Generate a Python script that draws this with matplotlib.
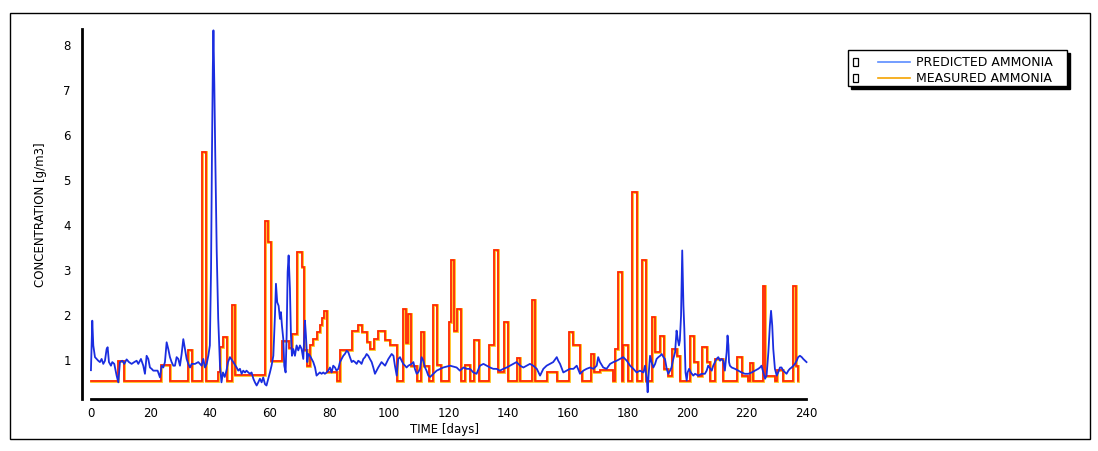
import matplotlib
matplotlib.use("Agg")
import matplotlib.pyplot as plt
from matplotlib.lines import Line2D
from matplotlib.patches import Rectangle

plt.rcParams['font.family'] = ['DejaVu Sans']

# ---------------- data ----------------
# Predicted ammonia (continuous model output)
pred_days = [0.0, 0.45, 0.79, 1.35, 1.9, 2.46, 3.02, 3.58, 4.14, 4.7, 5.26, 5.6, 6.04, 6.71, 7.16, 7.83,
             8.62, 9.18, 9.73, 10.52, 11.19, 11.97, 12.75, 13.65, 14.54, 15.33, 15.89, 16.78, 17.56,
             18.12, 18.68, 19.24, 19.8, 20.36, 20.92, 21.48, 22.37, 23.16, 23.72, 24.28, 24.83, 25.4,
             25.95, 26.51, 27.07, 27.63, 28.19, 28.75, 29.31, 29.87, 30.43, 30.99, 31.55, 32.11, 32.67,
             33.23, 33.78, 34.9, 36.02, 37.14, 37.7, 38.26, 38.82, 39.38, 39.9, 40.3, 40.6, 40.9, 41.1,
             41.4, 41.7, 42.2, 42.7, 43.3, 43.8, 44.3, 44.9, 45.5, 46.0, 46.64, 47.76, 48.88, 49.44,
             50.0, 50.56, 51.1, 51.7, 52.2, 52.8, 53.35, 53.9, 54.5, 55.03, 55.6, 56.15, 56.7, 57.27,
             57.8, 58.4, 58.9, 59.5, 60.06, 60.6, 61.2, 61.74, 62.08, 62.5, 62.97, 63.42, 63.75, 64.09,
             64.54, 64.87, 65.32, 65.66, 66.0, 66.33, 66.77, 67.11, 67.45, 67.9, 68.45, 69.01, 69.57,
             70.13, 70.69, 71.25, 71.81, 72.14, 72.59, 72.93, 73.5, 74.05, 74.6, 75.2, 75.7, 76.3, 76.8,
             77.4, 77.96, 78.5, 79.08, 79.6, 80.2, 80.75, 81.3, 81.9, 82.4, 83.0, 83.55, 84.1, 84.67,
             85.2, 85.8, 86.35, 86.9, 87.5, 88.0, 88.6, 89.15, 89.7, 90.3, 90.8, 91.4, 91.95, 92.5,
             93.06, 93.6, 94.2, 94.74, 95.3, 96.4, 97.5, 98.7, 99.8, 100.9, 101.5, 102.0, 102.6, 103.1,
             103.7, 104.25, 104.8, 105.4, 105.9, 106.5, 107.6, 108.2, 108.7, 109.3, 109.8, 110.4,
             110.96, 111.5, 112.1, 112.6, 113.2, 113.8, 116.0, 118.2, 120.5, 122.7, 123.8, 125.0,
             126.1, 127.2, 128.3, 129.4, 130.5, 131.7, 132.8, 133.9, 135.0, 136.1, 137.2, 138.4,
             139.5, 140.6, 141.7, 142.8, 144.0, 145.1, 146.2, 147.3, 148.4, 149.6, 150.7, 151.8,
             152.9, 154.0, 155.1, 156.3, 156.8, 157.4, 158.5, 159.6, 160.7, 161.9, 163.0, 164.1,
             165.2, 166.3, 167.5, 168.6, 169.7, 170.2, 170.8, 171.9, 173.0, 174.2, 175.3, 176.4,
             177.5, 178.6, 179.8, 180.9, 182.0, 183.1, 184.2, 185.4, 185.9, 186.5, 186.8, 187.1,
             187.6, 188.1, 188.7, 189.3, 189.8, 190.4, 191.0, 191.5, 192.1, 192.6, 193.2, 193.7,
             194.3, 194.8, 195.4, 196.0, 196.5, 196.9, 197.3, 197.6, 198.0, 198.4, 198.8, 199.1,
             199.5, 199.9, 200.2, 200.7, 201.3, 202.1, 202.7, 203.8, 204.9, 206.0, 206.6, 207.1,
             208.3, 208.8, 209.4, 209.9, 210.5, 211.1, 211.6, 212.2, 212.7, 213.3, 213.6, 213.9,
             214.1, 214.4, 215.0, 216.1, 217.2, 218.3, 219.4, 220.6, 221.7, 222.8, 223.9, 224.5,
             225.0, 225.6, 226.2, 226.7, 227.3, 227.8, 228.2, 228.6, 228.95, 229.5, 230.1, 230.6,
             231.2, 231.7, 232.3, 232.9, 233.4, 234.0, 234.5, 235.1, 235.7, 236.2, 236.8, 237.3,
             237.9, 238.5, 239.0, 239.6, 240.1]
pred_vals = [0.75, 1.85, 1.30, 1.04, 1.00, 0.96, 0.93, 1.00, 0.89, 0.96, 1.22, 1.26, 0.93, 0.85, 0.93, 0.89,
             0.63, 0.48, 0.93, 0.96, 0.89, 0.99, 0.93, 0.89, 0.93, 0.96, 0.89, 1.00, 0.85,
             0.67, 1.07, 1.00, 0.81, 0.78, 0.74, 0.74, 0.74, 0.59, 0.85, 0.81, 0.93, 1.37,
             1.22, 1.04, 0.93, 0.85, 0.85, 1.04, 1.00, 0.85, 1.11, 1.44, 1.22, 1.00, 0.89,
             0.81, 0.89, 0.89, 0.93, 0.85, 1.00, 0.81, 0.89, 1.07, 1.30, 3.0, 5.5, 7.5, 8.3,
             7.1, 5.6, 3.4, 1.9, 0.85, 0.48, 0.70, 0.60, 0.75, 0.93, 1.04, 0.93, 0.81, 0.74,
             0.78, 0.67, 0.74, 0.70, 0.74, 0.70, 0.67, 0.70, 0.56, 0.48, 0.41, 0.48, 0.56, 0.48,
             0.59, 0.44, 0.41, 0.56, 0.70, 0.85, 1.07, 1.96, 2.67, 2.26, 2.18, 1.89, 2.04, 1.74,
             1.44, 0.85, 0.70, 1.52, 2.93, 3.30, 2.56, 1.52, 1.07, 1.22, 1.07, 1.30, 1.19,
             1.30, 1.22, 1.00, 1.85, 1.52, 0.93, 1.11, 1.07, 1.00, 0.93, 0.81, 0.63, 0.67, 0.70,
             0.67, 0.70, 0.67, 0.70, 0.74, 0.81, 0.70, 0.85, 0.81, 0.74, 0.78, 0.93, 1.00, 1.07,
             1.11, 1.18, 1.15, 1.04, 0.93, 0.96, 0.93, 0.89, 0.96, 0.93, 0.89, 1.00, 1.04, 1.11,
             1.07, 1.00, 0.93, 0.81, 0.67, 0.81, 0.93, 0.85, 1.00, 1.11, 1.07, 0.85, 0.63, 1.00,
             1.04, 0.96, 0.89, 0.85, 0.81, 0.85, 0.89, 0.93, 0.78, 0.67, 0.70, 0.78,
             1.04, 0.96, 0.81, 0.74, 0.63, 0.60, 0.74, 0.81, 0.85, 0.81, 0.74, 0.81,
             0.78, 0.78, 0.70, 0.67, 0.85, 0.89, 0.85, 0.81, 0.78, 0.78, 0.74, 0.78,
             0.81, 0.85, 0.89, 0.93, 0.85, 0.81, 0.85, 0.89, 0.85, 0.78, 0.63, 0.78,
             0.85, 0.89, 0.93, 1.04, 0.96, 0.89, 0.70, 0.74, 0.78, 0.78, 0.85, 0.67,
             0.74, 0.78, 0.81, 0.78, 0.85, 1.04, 0.93, 0.81, 0.78, 0.89, 0.93, 0.96,
             1.00, 1.04, 0.96, 0.85, 0.78, 0.70, 0.74, 0.70, 0.85, 0.56, 0.26, 0.63,
             1.07, 0.93, 0.81, 0.89, 1.00, 1.04, 1.07, 1.11, 1.04, 1.00, 0.78, 0.67,
             0.74, 0.81, 1.00, 1.15, 1.63, 1.44, 1.30, 1.41, 1.96, 3.41, 2.19, 1.67,
             0.70, 0.52, 0.70, 0.78, 0.70, 0.63, 0.67, 0.63, 0.67, 0.67, 0.74, 0.85,
             0.74, 0.85, 0.93, 1.00, 1.04, 0.96, 1.00, 0.96, 0.74, 1.15, 1.52, 1.30,
             0.93, 0.85, 0.81, 0.78, 0.74, 0.70, 0.67, 0.67, 0.70, 0.74, 0.78, 0.81,
             0.85, 0.70, 0.56, 0.63, 1.15, 1.74, 2.07, 1.74, 1.22, 0.78, 0.63, 0.70,
             0.81, 0.81, 0.74, 0.70, 0.67, 0.74, 0.78, 0.81, 0.85, 0.89, 0.96, 1.04,
             1.07, 1.04, 1.00, 0.96, 0.93]

# Measured ammonia (step series: value holds from each day until the next)
meas_days = [0.0, 9.1, 11.1, 23.5, 26.5, 32.7, 34.0, 37.3, 38.5, 42.5, 43.3, 44.2, 45.5, 47.3, 48.3,
             58.3, 59.3, 60.4, 64.2, 66.3, 67.6, 69.0, 70.7, 71.5, 72.5, 73.6, 74.6, 75.7, 76.8,
             77.6, 78.3, 79.3, 82.4, 83.5, 87.5, 89.7, 90.9, 92.6, 93.5, 95.0, 96.4, 98.6, 100.3,
             102.8, 104.8, 105.8, 106.3, 107.3, 109.5, 110.6, 111.8, 113.5, 114.9, 116.0, 117.6,
             120.0, 120.8, 121.9, 122.7, 124.2, 125.5, 127.2, 128.6, 130.2, 133.7, 135.3, 136.7,
             138.7, 140.0, 142.8, 144.0, 148.1, 149.0, 152.9, 156.3, 160.5, 161.9, 164.1, 164.7,
             167.8, 168.8, 170.8, 175.3, 175.8, 177.0, 178.1, 178.6, 180.3, 181.7, 183.3, 185.0,
             186.2, 188.1, 189.3, 191.0, 192.3, 193.7, 194.8, 196.5, 197.6, 201.0, 202.4, 203.8,
             204.9, 206.6, 207.7, 209.4, 212.2, 216.7, 218.3, 220.6, 221.1, 222.2, 225.4, 226.2,
             229.5, 230.1, 232.3, 235.7, 236.5, 237.3]
meas_vals = [0.5, 0.95, 0.5, 0.87, 0.5, 1.2, 0.5, 5.6, 0.5, 0.7, 1.27, 1.49, 0.5, 2.2, 0.65,
             4.07, 3.6, 0.95, 1.4, 1.25, 1.55, 3.38, 3.05, 1.2, 0.85, 1.3, 1.45, 1.6, 1.75,
             1.9, 2.07, 0.72, 0.5, 1.2, 1.62, 1.75, 1.6, 1.38, 1.22, 1.45, 1.63, 1.42, 1.3,
             0.5, 2.1, 1.35, 2.0, 0.85, 0.5, 1.6, 0.85, 0.5, 2.2, 0.87, 0.5,
             1.82, 3.2, 1.63, 2.1, 0.5, 0.87, 0.5, 1.42, 0.5, 1.31, 3.41, 0.7,
             1.82, 0.5, 1.02, 0.5, 2.32, 0.5, 0.7, 0.5, 1.6, 1.31, 0.7, 0.5,
             1.1, 0.7, 0.76, 0.5, 1.22, 2.94, 0.5, 1.31, 0.5, 4.71, 0.5, 3.2,
             0.5, 1.93, 1.15, 1.52, 0.78, 0.63, 1.22, 1.07, 0.5, 1.52, 0.93, 0.63,
             1.26, 0.93, 0.5, 1.0, 0.5, 1.05, 0.63, 0.5, 0.91, 0.5, 2.61, 0.63,
             0.5, 0.76, 0.5, 2.61, 0.85, 0.5]

x_ticks = [0, 20, 40, 60, 80, 100, 120, 140, 160, 180, 200, 220, 240]
y_ticks = [1, 2, 3, 4, 5, 6, 7, 8]
series_labels = ["PREDICTED AMMONIA", "MEASURED AMMONIA"]

# ---------------- figure ----------------
W, H = 1098, 452
fig = plt.figure(figsize=(W / 100, H / 100), dpi=100)
fig.patch.set_facecolor("white")

def fx(px):
    return px / W

def fy(py):
    return 1 - py / H

ax = fig.add_axes([fx(82), fy(400), fx(808) - fx(82), fy(30) - fy(400)])
ax.set_xlim(-3, 240.6)
ax.set_ylim(0.11, 8.33)

# measured: thin yellow-orange fringe + red line (scanned look)
ax.plot(meas_days, meas_vals, drawstyle="steps-post", color="#ffc21a", lw=2.0, zorder=2,
        solid_joinstyle="miter")
ax.plot(meas_days, meas_vals, drawstyle="steps-post", color="#ff1e0a", lw=1.2, zorder=3,
        solid_joinstyle="miter")
# predicted
ax.plot(pred_days, pred_vals, color="#1a2de0", lw=1.3, zorder=4)

for s in ["top", "right"]:
    ax.spines[s].set_visible(False)
ax.spines["left"].set_linewidth(2.0)
ax.spines["bottom"].set_linewidth(2.0)
ax.spines["bottom"].set_bounds(0, 240)

ax.set_xticks(x_ticks)
ax.set_xticklabels([str(t) for t in x_ticks])
ax.set_yticks(y_ticks)
ax.set_yticklabels([str(t) for t in y_ticks])
ax.tick_params(axis="both", length=0, labelsize=8.5)
ax.tick_params(axis="y", pad=8)
ax.tick_params(axis="x", pad=5)
ax.set_xlabel("TIME [days]", fontsize=8.5, labelpad=2)
ax.set_ylabel("CONCENTRATION [g/m3]", fontsize=8.5, labelpad=12)

# ---------------- legend (manual, scanned style) ----------------
fig.add_artist(Rectangle((fx(851), fy(90)), fx(1070) - fx(851), fy(54) - fy(90),
                         transform=fig.transFigure, facecolor="black", edgecolor="black", zorder=5))
fig.add_artist(Rectangle((fx(848), fy(87)), fx(1067) - fx(848), fy(51) - fy(87),
                         transform=fig.transFigure, facecolor="white", edgecolor="black", lw=1.0,
                         zorder=6))
leg_colors = ["#5b8cff", "#f5a300"]
for i, (lab, col) in enumerate(zip(series_labels, leg_colors)):
    yy = 63 + i * 16
    fig.add_artist(Rectangle((fx(853), fy(yy + 4)), fx(858) - fx(853), fy(yy - 4) - fy(yy + 4),
                             transform=fig.transFigure, facecolor="white", edgecolor="black",
                             lw=0.9, zorder=7))
    fig.add_artist(Line2D([fx(878), fx(910)], [fy(yy), fy(yy)], transform=fig.transFigure,
                          color=col, lw=1.2, zorder=7))
    fig.text(fx(916), fy(yy), lab, fontsize=9, ha="left", va="center", zorder=7)

# outer frame of the scanned figure
fig.add_artist(Rectangle((fx(10), fy(440)), fx(1090) - fx(10), fy(14) - fy(440),
                         transform=fig.transFigure, facecolor="none", edgecolor="black", lw=1.0,
                         zorder=1))

fig.savefig("out.png", dpi=100, facecolor="white")
